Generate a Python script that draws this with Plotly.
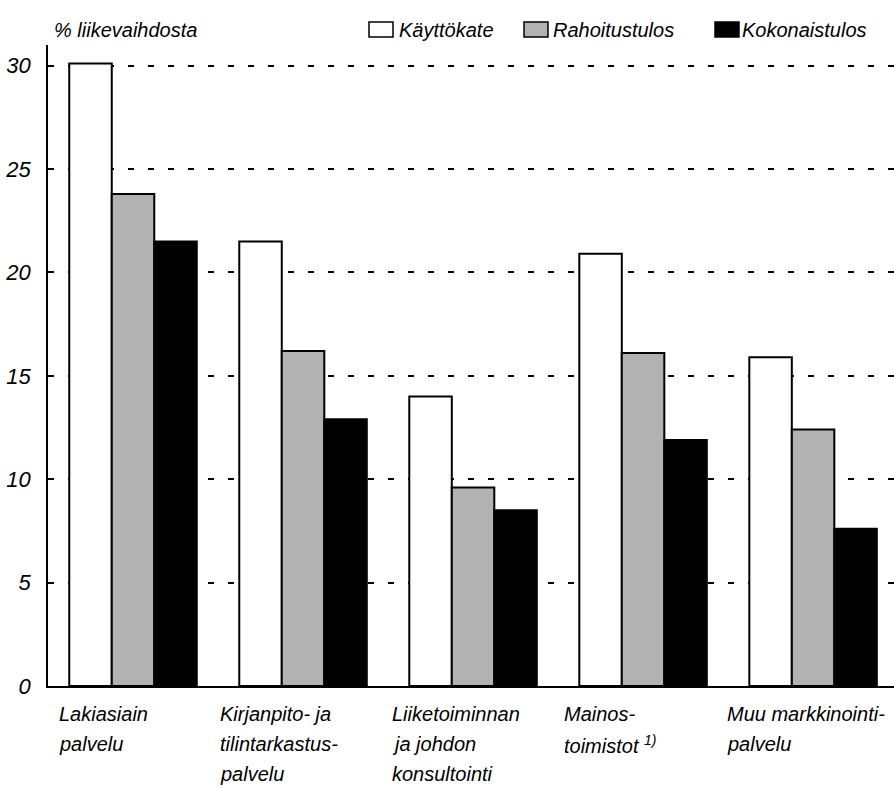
import plotly.graph_objects as go

categories = ["Lakiasiain<br>palvelu",
              "Kirjanpito- ja<br>tilintarkastus-<br>palvelu",
              "Liiketoiminnan<br>ja johdon<br>konsultointi",
              "Mainos-<br>toimistot <sup>1)</sup>",
              "Muu markkinointi-<br>palvelu"]
series_names = ["Käyttökate", "Rahoitustulos", "Kokonaistulos"]
kayttokate = [30.1, 21.5, 14.0, 20.9, 15.9]
rahoitustulos = [23.8, 16.2, 9.6, 16.1, 12.4]
kokonaistulos = [21.5, 12.9, 8.5, 11.9, 7.6]
y_ticks = [0, 5, 10, 15, 20, 25, 30]

series_values = [kayttokate, rahoitustulos, kokonaistulos]
colors = ["#ffffff", "#b2b2b2", "#000000"]

FONT = "Liberation Sans, Arial, Helvetica, sans-serif"
FS = 20
W, H = 894, 788
ML, MR, MT, MB = 48, 0, 45, 102
PW, PH = W - ML - MR, H - MT - MB

def px_x(px):
    return (px - ML) / PW

def px_y(py):
    return (H - MB - py) / PH

xs = list(range(len(categories)))
fig = go.Figure()
for name, vals, col in zip(series_names, series_values, colors):
    fig.add_trace(go.Bar(
        x=xs, y=vals, name=name,
        marker=dict(color=col, line=dict(color="black", width=2)),
        showlegend=False,
    ))

# category labels (left aligned, below the axis), one annotation per line
label_offsets = [-0.447, -0.5, -0.488, -0.476, -0.518]
line_mid_px = [714, 744, 774]
annotations = []
for i, (cat, off) in enumerate(zip(categories, label_offsets)):
    for j, line in enumerate(cat.split("<br>")):
        annotations.append(dict(
            x=i + off, y=px_y(line_mid_px[j]), xref="x", yref="paper",
            text=line, showarrow=False, xanchor="left", yanchor="middle",
            align="left",
            font=dict(family=FONT, size=FS, style="italic", color="black"),
        ))

# axis title
annotations.append(dict(
    x=px_x(52), y=px_y(30), xref="paper", yref="paper",
    text="% liikevaihdosta", showarrow=False, xanchor="left", yanchor="middle",
    font=dict(family=FONT, size=FS, style="italic", color="black"),
))

# manual legend
box_x = [369, 524, 715]
text_x = [397, 551, 740]
shapes = []
for name, col, bx, tx in zip(series_names, colors, box_x, text_x):
    shapes.append(dict(
        type="rect", xref="paper", yref="paper",
        x0=px_x(bx), x1=px_x(bx + 24), y0=px_y(37), y1=px_y(22),
        fillcolor=col, line=dict(color="black", width=1.5),
    ))
    annotations.append(dict(
        x=px_x(tx), y=px_y(30), xref="paper", yref="paper",
        text=name, showarrow=False, xanchor="left", yanchor="middle",
        font=dict(family=FONT, size=FS, style="italic", color="black"),
    ))

fig.update_layout(
    width=W, height=H,
    margin=dict(l=ML, r=MR, t=MT, b=MB),
    plot_bgcolor="white", paper_bgcolor="white",
    barmode="group", bargap=0.25, bargroupgap=0,
    annotations=annotations, shapes=shapes,
    font=dict(family=FONT, size=FS, color="black"),
)
fig.update_xaxes(
    range=[-0.5, 4.476], showticklabels=False, ticks="", showgrid=False,
    showline=True, linecolor="black", linewidth=1.5, zeroline=False,
    automargin=False,
)
fig.update_yaxes(
    range=[0, 31], tickvals=y_ticks, ticktext=[str(v) for v in y_ticks],
    ticks="inside", ticklen=4, tickcolor="black", tickwidth=1.2,
    showline=True, linecolor="black", linewidth=1.5,
    showgrid=True, gridcolor="black", gridwidth=1.5, griddash="6px,14px",
    zeroline=False, ticklabelstandoff=11, automargin=False,
    tickfont=dict(family=FONT, size=22, style="italic", color="black"),
)
fig.write_html("out.html",
               config={"displayModeBar": False},
               post_script="document.body.style.margin='0';document.body.style.overflow='hidden';")
